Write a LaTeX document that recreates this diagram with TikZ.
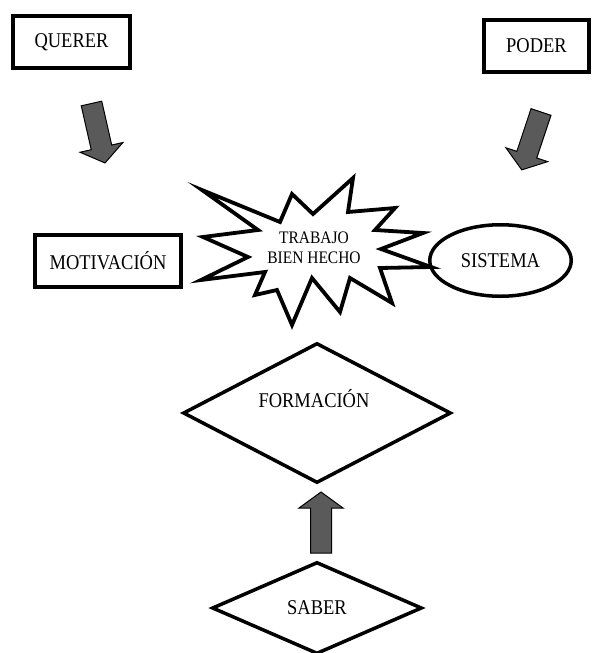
\documentclass[tikz,border=0pt]{standalone}
\usepackage{fontspec}
\setmainfont{Liberation Serif}[FakeStretch=0.88]
\usepackage{tikz}
\usetikzlibrary{shapes.geometric}

\definecolor{arrowgray}{RGB}{90,90,90}

\tikzset{
  pics/bigarrow/.style={code={
    \draw[line width=1pt, fill=arrowgray, line join=miter]
      (-10.5,0) -- (-10.5,45) -- (-22,45) -- (0,61) -- (22,45) -- (10.5,45) -- (10.5,0) -- cycle;
  }}
}

\begin{document}
\begin{tikzpicture}[x=1pt, y=-1pt,
  word/.style={font=\fontsize{21}{22}\selectfont, inner sep=0pt},
  thickbox/.style={draw, line width=4pt, minimum height=52pt, inner sep=0pt,
    font=\fontsize{21}{22}\selectfont},
  thickoval/.style={draw, ellipse, line width=3.5pt, inner sep=0pt,
    font=\fontsize{21}{22}\selectfont},
  thickdiamond/.style={draw, diamond, line width=3.5pt, inner sep=0pt,
    font=\fontsize{21}{22}\selectfont}]
	\useasboundingbox (0,0) rectangle (592,653);
	% top boxes
	\node[thickbox, minimum width=117pt] (querer) at (71.5,42) {QUERER};
	\node[thickbox, minimum width=105pt] (poder) at (536.5,46) {PODER};
	\pic[rotate=12.8] (qarrow) at (91.5,103.5) {bigarrow};
	\pic[rotate=-18.4] (parrow) at (541,112) {bigarrow};
	% middle row
	\node[thickbox, minimum width=146pt] (motivacion) at (108,261) {MOTIVACIÓN};
	\draw[line width=3.8pt, line join=miter, miter limit=20, fill=white]
	  (202,190) -- (280,222) -- (292,194) -- (313,214) -- (353,178) -- (348,212)
	  -- (395,208) -- (375,230) -- (423,233) -- (381,249) -- (431,267) -- (380,268)
	  -- (392,303) -- (350,278) -- (340,312) -- (312,278) -- (292,325) -- (277,290)
	  -- (255,295) -- (265,272) -- (201,280) -- (248,257) -- (203,237) -- (258,230) -- cycle;
	\node[align=center, inner sep=0pt, font=\fontsize{17.6}{20}\selectfont] (trabajo) at (314,248) {TRABAJO\\BIEN HECHO};
	\node[thickoval, minimum width=141.5pt, minimum height=71.5pt] (sistema) at (500.5,260.5) {SISTEMA};
	% diamonds
	\node[thickdiamond, minimum width=268pt, minimum height=140pt] (formacion) at (317,413) {};
	\node[word] (formaciontext) at (314,399) {FORMACIÓN};
	\pic[rotate=180] (sarrow) at (321,553) {bigarrow};
	\node[thickdiamond, minimum width=210pt, minimum height=92pt] (saber) at (317,608) {SABER};
\end{tikzpicture}
\end{document}
